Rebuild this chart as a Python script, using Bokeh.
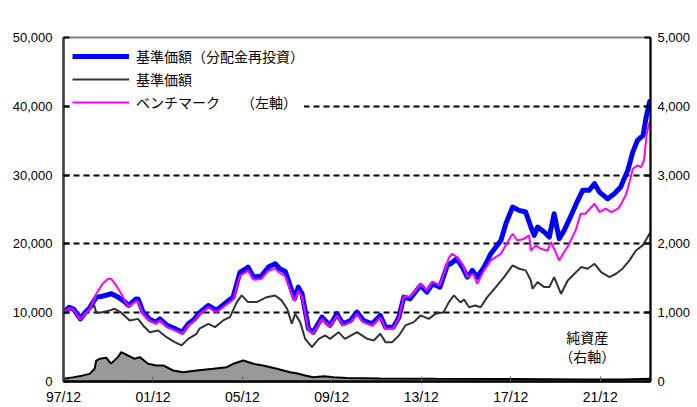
from bokeh.plotting import figure
from bokeh.models import (Range1d, LinearAxis, FixedTicker, NumeralTickFormatter,
                          Legend, LegendItem, Label, ColumnDataSource)
from bokeh.embed import file_html
from bokeh.resources import INLINE

# x = months elapsed since 1997/12
x_ticks = [0, 48, 96, 144, 192, 240, 288]
x_labels = ["97/12", "01/12", "05/12", "09/12", "13/12", "17/12", "21/12"]

reinv_m = [0, 3, 5.6, 9, 11.5, 14, 17.6, 21, 25.8, 29.4, 33, 35, 38.9, 40, 42.7, 46, 49.5,
           51.7, 55.6, 60, 63.7, 67, 70, 73, 77.7, 82, 87.5, 91, 94.7, 98, 99, 102, 106,
           110, 113.6, 116, 119, 121.6, 124, 126, 128, 131.5, 134, 138.7, 142, 143, 146.7,
           150, 154, 157.5, 161, 165.6, 170, 172.8, 177, 180, 182.6, 186, 191.6, 195, 198,
           202, 206, 208.7, 211, 214, 216.7, 219.4, 222, 225.7, 229.3, 234.7, 237.4, 241,
           244.5, 248, 250.8, 252.6, 254.4, 258, 260.7, 263.3, 266, 268.7, 272.5, 276,
           278.6, 282, 285, 287.6, 292, 295.6, 299, 302.8, 305.5, 308, 311, 312.7, 314.5, 315]
reinv_v = [10000, 10800, 10500, 9100, 10000, 10700, 12260, 12400, 12750, 12260, 11540, 11050,
           12000, 12000, 10080, 9100, 8630, 9100, 8150, 7660, 7170, 8390, 9000, 10000, 11050,
           10330, 11540, 12260, 15900, 16390, 16630, 15170, 15300, 16630, 17110, 16390, 16000,
           13960, 12020, 13720, 12750, 7660, 7170, 9350, 8390, 8150, 9850, 8390, 8870, 10080,
           8870, 8390, 9600, 7900, 7900, 9350, 12260, 12020, 13960, 12990, 14200, 13720, 16900,
           17300, 17840, 16630, 15170, 16150, 15170, 16630, 18570, 20500, 22940, 25360, 24870,
           24630, 22450, 21240, 22450, 21720, 21000, 24390, 20760, 21960, 24200, 26330, 27780,
           27780, 28750, 27530, 26560, 27290, 28260, 30690, 33350, 35050, 35780, 38440, 40630,
           40870]

bench_m = [0, 3, 5.6, 9, 11.5, 14, 17.6, 21, 23.9, 25.6, 28.3, 31, 33.7, 35, 38.9, 40, 42.7,
           46, 49.5, 51.7, 55.6, 60, 63.7, 67, 70, 73, 77.7, 82, 87.5, 91, 94.7, 98, 99, 102,
           106, 110, 113.6, 116, 119, 121.6, 124, 126, 128, 131.5, 134, 138.7, 142, 143,
           146.7, 150, 154, 157.5, 161, 165.6, 170, 172.8, 177, 180, 182.6, 186, 191.6, 195,
           198, 202, 206.8, 208.7, 211, 214, 216.7, 220, 222, 225.7, 229.3, 234.7, 238.3, 241,
           243.6, 247.2, 249.9, 250.8, 253.5, 256, 259.8, 261.5, 263.3, 266, 268.7, 271,
           274.8, 277.5, 280, 285, 287.6, 291, 294, 297.6, 299.4, 302, 304, 305.5, 308, 310,
           311.5, 313, 314.5, 315]
bench_v = [10000, 10700, 10400, 9000, 9900, 10500, 12750, 14200, 14930, 14930, 13960, 12750,
           11300, 10900, 11700, 11600, 9800, 8900, 8400, 8900, 7900, 7400, 7000, 8150, 8800,
           9800, 10800, 10100, 11200, 11900, 15400, 15900, 16150, 14800, 14900, 16100, 16400,
           15800, 15300, 13300, 11700, 13200, 12300, 7400, 7000, 9100, 8200, 8000, 9600, 8200,
           8600, 9800, 8600, 8100, 9300, 7600, 7700, 9300, 12400, 12300, 14200, 13300, 14500,
           14000, 18000, 18570, 18080, 17110, 15170, 15660, 14200, 16150, 17600, 18570, 20270,
           21480, 20500, 20760, 21240, 19050, 19780, 19300, 19050, 20270, 19300, 17600, 18810,
           19800, 21960, 24390, 24390, 25850, 24630, 25120, 24630, 25120, 25850, 27290, 29240,
           30930, 31420, 31170, 32150, 36030, 37720, 37500]

nav_m = [0, 3, 5.6, 9, 12.9, 16.5, 17.6, 19.4, 24.8, 27.5, 31, 35.5, 40, 42.7, 46.3, 50.8,
         55.3, 59.7, 63.3, 66.9, 71.4, 73, 77.7, 81.3, 85.7, 89.3, 93, 95.6, 99, 103.7, 109,
         113.6, 117, 120, 122.5, 124.3, 127, 129.7, 133.3, 137, 140.5, 143, 147.6, 151, 157.5,
         163, 166.5, 170, 172.8, 176.4, 180, 183.5, 188, 191.6, 196, 199.7, 204, 206.8, 209.5,
         213, 215, 217.6, 221, 223.8, 227.4, 232, 236.4, 241, 244.5, 248, 250.8, 251.7, 254.4,
         258, 260.7, 263.3, 267, 270.6, 274.2, 277.8, 281.3, 285, 288.5, 293, 296.5, 300,
         303.7, 307.2, 310.8, 313.5, 315]
nav_v = [10000, 10500, 10300, 9600, 10300, 11050, 10000, 10000, 10330, 10570, 10000, 8870,
         9100, 8150, 7170, 7420, 6440, 5720, 5240, 6200, 6930, 7700, 8390, 7900, 8870, 9350,
         11540, 12510, 11540, 11540, 12260, 12510, 11790, 10570, 8390, 9850, 8630, 6200, 4990,
         6200, 6690, 6200, 7170, 6200, 7170, 6200, 5960, 6930, 5720, 5720, 6690, 8150, 8630,
         9600, 9100, 9850, 10080, 11540, 12510, 11500, 11900, 10800, 11050, 10800, 12260, 13720,
         15170, 16870, 16390, 16150, 14690, 13480, 14450, 13720, 13720, 15170, 12750, 14690,
         15660, 16630, 16390, 17110, 15900, 15170, 15660, 16390, 17600, 19050, 19780, 20990,
         21720]

# net assets, 100 million yen (right axis)
asset_m = [0, 5, 10, 14, 16.7, 17.6, 19.4, 23, 25.5, 29.2, 31, 34.6, 38.2, 40.9, 45.4, 49.9,
           53.5, 58.8, 64.2, 71.4, 80.4, 87.6, 91.1, 96.5, 101.9, 107, 114.5, 121.6, 125,
           129.7, 134, 140, 145, 152, 170, 200, 240, 280, 300, 315]
asset_v = [40, 60, 85, 111, 185, 305, 330, 345, 260, 354, 427, 378, 330, 354, 257, 233, 233,
           160, 135, 160, 185, 208, 257, 305, 257, 233, 185, 135, 120, 87, 63, 75, 63, 50, 45,
           40, 35, 30, 30, 40]

label_reinv = "基準価額（分配金再投資）"
label_nav = "基準価額"
label_bench = "ベンチマーク　　（左軸）"

p = figure(width=697, height=407, x_range=Range1d(0, 315), y_range=Range1d(0, 50000),
           output_backend="svg", toolbar_location=None,
           min_border_left=63, min_border_right=47, min_border_top=37, min_border_bottom=26)
p.extra_y_ranges = {"right": Range1d(0, 5000)}
p.background_fill_color = "white"
p.outline_line_color = "#808080"
p.outline_line_width = 2

# axes
p.yaxis.ticker = FixedTicker(ticks=[0, 10000, 20000, 30000, 40000, 50000])
p.yaxis.formatter = NumeralTickFormatter(format="0,0")
p.yaxis.axis_line_color = "#404040"
p.yaxis.axis_line_width = 2.5
p.yaxis.major_tick_in = 6
p.yaxis.major_tick_out = 0
p.yaxis.major_tick_line_width = 2
p.yaxis.minor_tick_line_color = None
p.yaxis.major_label_standoff = 11
p.yaxis.major_label_text_font = "Liberation Sans"
p.yaxis.major_label_text_font_size = "13px"
p.yaxis.major_label_text_color = "black"

ry = LinearAxis(y_range_name="right", ticker=FixedTicker(ticks=[0, 1000, 2000, 3000, 4000, 5000]),
                formatter=NumeralTickFormatter(format="0,0"))
ry.axis_line_color = "black"
ry.axis_line_width = 2
ry.major_tick_in = 6
ry.major_tick_out = 0
ry.major_tick_line_width = 2
ry.minor_tick_line_color = None
ry.major_label_standoff = 7
ry.major_label_text_font = "Liberation Sans"
ry.major_label_text_font_size = "13px"
ry.major_label_text_color = "black"
p.add_layout(ry, "right")

p.xaxis.ticker = FixedTicker(ticks=x_ticks)
p.xaxis.major_label_overrides = dict(zip(x_ticks, x_labels))
p.xaxis.axis_line_color = "black"
p.xaxis.axis_line_width = 2.5
p.xaxis.major_tick_in = 5
p.xaxis.major_tick_out = 0
p.xaxis.major_tick_line_color = "#606060"
p.xaxis.minor_tick_line_color = None
p.xaxis.major_label_standoff = 7
p.xaxis.major_label_text_font = "Liberation Sans"
p.xaxis.major_label_text_font_size = "14px"
p.xaxis.major_label_text_color = "black"

p.xgrid.grid_line_color = None
p.ygrid.ticker = FixedTicker(ticks=[10000, 20000, 30000, 40000])
p.ygrid.grid_line_color = "black"
p.ygrid.grid_line_width = 2
p.ygrid.grid_line_dash = "6 4"

# net assets area
asrc = ColumnDataSource(dict(x=asset_m, y=asset_v, z=[0] * len(asset_m)))
p.varea(x="x", y1="z", y2="y", source=asrc, fill_color="#999999", y_range_name="right")
p.line(x="x", y="y", source=asrc, line_color="black", line_width=2, y_range_name="right")

r_nav = p.line(nav_m, nav_v, line_color="#333333", line_width=2)
r_reinv = p.line(reinv_m, reinv_v, line_color="#0000FF", line_width=5, line_join="round")
r_bench = p.line(bench_m, bench_v, line_color="#FF00FF", line_width=2)

legend = Legend(items=[LegendItem(label=label_reinv, renderers=[r_reinv]),
                       LegendItem(label=label_nav, renderers=[r_nav]),
                       LegendItem(label=label_bench, renderers=[r_bench])],
                location="top_left")
legend.padding = 9
legend.margin = 9
legend.spacing = 3
legend.glyph_width = 57
legend.glyph_height = 20
legend.label_height = 20
legend.label_standoff = 7
legend.label_text_font = "Noto Sans CJK JP"
legend.label_text_font_size = "14px"
legend.label_text_color = "black"
legend.border_line_color = None
legend.background_fill_color = "white"
legend.background_fill_alpha = 1.0
p.add_layout(legend)

lab_kw = dict(text_font="Noto Sans CJK JP", text_font_size="14px", text_color="black",
              text_align="center", text_baseline="middle")
p.add_layout(Label(x=281, y=6400, text="純資産", **lab_kw))
p.add_layout(Label(x=281, y=3640, text="（右軸）", **lab_kw))
p.add_layout(Label(x=310.5, y=52650, text="（億円）", **lab_kw))

open("out.html", "w").write(file_html(p, INLINE))
